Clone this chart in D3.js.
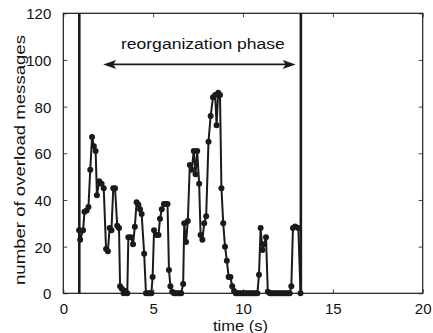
<!DOCTYPE html>
<html><head><meta charset="utf-8">
<script src="https://d3js.org/d3.v7.min.js"></script>
<style>body{margin:0;background:#fff;} svg{display:block;}</style>
</head><body>
<script>
const times = [0.88,0.94,1.1,1.18,1.3,1.4,1.5,1.6,1.7,1.8,1.87,2.0,2.13,2.25,2.38,2.48,2.58,2.68,2.78,2.88,3.0,3.1,3.16,3.26,3.36,3.45,3.56,3.62,3.76,3.88,3.98,4.08,4.18,4.27,4.36,4.5,4.6,4.7,4.8,4.9,4.97,5.05,5.18,5.3,5.38,5.48,5.6,5.7,5.8,5.88,5.96,6.06,6.16,6.26,6.36,6.46,6.56,6.67,6.73,6.83,6.93,7.04,7.15,7.26,7.36,7.45,7.56,7.64,7.74,7.84,7.95,8.08,8.2,8.33,8.45,8.53,8.62,8.72,8.8,8.9,9.0,9.1,9.2,9.3,9.4,9.5,9.6,9.7,9.8,9.9,10.0,10.1,10.2,10.3,10.4,10.5,10.6,10.7,10.8,10.89,10.98,11.08,11.18,11.28,11.38,11.5,11.6,11.7,11.8,11.9,12.0,12.1,12.2,12.3,12.4,12.5,12.6,12.69,12.78,12.9,13.08,13.2];
const values = [27,23,27,35,35.5,37,53,67,63,61,42,48,47,45,19,18,28,27,45,45,29,28,3,2,0,1,0,24,24,21,28.5,39,38,36,34,17,0,0,0,0,7,27,25,25,32,36,38.3,38.3,38.3,10,3,0.7,0,0,0,0,0,4,30,22,31,55,53,61,51,61,47,25,23,30,33,65,76,84,85,72,86,85,45,30,20,14,7,7,3,1,0,0,0,0,0,0,0,0,0,0,0,0,0,8,28,18.6,21,24,0.7,0,0,0,0,0,0,0,0,0,0,0,0,3,28,28.6,28,0];
const xTicks = [0,5,10,15,20];
const yTicks = [0,20,40,60,80,100,120];
const phaseLines = [0.89,13.22];
const arrowSpan = [2.22,12.93];
const arrowLevel = 98.1;
const phaseLabel = "reorganization phase";
const xLabel = "time (s)";
const yLabel = "number of overload messages";

const W=433,H=333;
const m={l:63.3,r:10.3,t:13.3,b:39.7};
const svg=d3.select("body").append("svg").attr("width",W).attr("height",H);
const x=d3.scaleLinear().domain([0,20]).range([m.l,W-m.r]);
const y=d3.scaleLinear().domain([0,120]).range([H-m.b,m.t]);
const font="'Liberation Sans', Arial, Helvetica, sans-serif";
const ink="#1a1a1a";

// box
svg.append("rect").attr("x",x(0)).attr("y",y(120)).attr("width",x(20)-x(0)).attr("height",y(0)-y(120))
  .attr("fill","none").attr("stroke",ink).attr("stroke-width",1.2);

// axes (inward ticks)
const tl=4;
const gb=svg.append("g").attr("transform",`translate(0,${y(0)})`)
  .call(d3.axisBottom(x).tickValues(xTicks).tickSizeInner(-tl).tickSizeOuter(0).tickPadding(9));
const gt=svg.append("g").attr("transform",`translate(0,${y(120)})`)
  .call(d3.axisTop(x).tickValues(xTicks).tickSizeInner(-tl).tickSizeOuter(0).tickFormat(""));
const gl=svg.append("g").attr("transform",`translate(${x(0)},0)`)
  .call(d3.axisLeft(y).tickValues(yTicks).tickSizeInner(-tl).tickSizeOuter(0).tickPadding(12));
const gr=svg.append("g").attr("transform",`translate(${x(20)},0)`)
  .call(d3.axisRight(y).tickValues(yTicks).tickSizeInner(-tl).tickSizeOuter(0).tickFormat(""));
[gb,gt,gl,gr].forEach(g=>{g.select(".domain").remove();g.selectAll("line").attr("stroke",ink).attr("stroke-width",0.8);
  g.selectAll("text").attr("font-family",font).attr("font-size",15).attr("fill","#111");});
gb.selectAll("text").attr("dy","0.75em");
gl.selectAll("text").attr("dy","0.36em");

// phase lines
svg.selectAll(".ph").data(phaseLines).enter().append("line")
  .attr("x1",d=>x(d)).attr("x2",d=>x(d)).attr("y1",y(120)).attr("y2",y(0))
  .attr("stroke",ink).attr("stroke-width",2.6);

// data line
const pts=times.map((t,i)=>[t,values[i]]);
svg.append("path").datum(pts).attr("fill","none").attr("stroke",ink).attr("stroke-width",2)
  .attr("stroke-linejoin","round").attr("d",d3.line().x(d=>x(d[0])).y(d=>y(d[1])));
svg.selectAll(".pt").data(pts).enter().append("circle")
  .attr("cx",d=>x(d[0])).attr("cy",d=>y(d[1])).attr("r",3).attr("fill",ink);

// arrow
const ay=y(arrowLevel), ax1=x(arrowSpan[0]), ax2=x(arrowSpan[1]);
svg.append("line").attr("x1",ax1+6).attr("x2",ax2-6).attr("y1",ay).attr("y2",ay).attr("stroke",ink).attr("stroke-width",1.8);
const hl=13,hw=4.5;
svg.append("path").attr("fill",ink)
  .attr("d",`M${ax1},${ay} L${ax1+hl},${ay-hw} L${ax1+hl-3},${ay} L${ax1+hl},${ay+hw} Z`);
svg.append("path").attr("fill",ink)
  .attr("d",`M${ax2},${ay} L${ax2-hl},${ay-hw} L${ax2-hl+3},${ay} L${ax2-hl},${ay+hw} Z`);

svg.append("text").attr("x",202.9).attr("y",48.5).attr("text-anchor","middle")
  .attr("font-family",font).attr("font-size",15.5).attr("fill","#111")
  .attr("textLength",164).attr("lengthAdjust","spacingAndGlyphs").text(phaseLabel);

svg.append("text").attr("x",240.5).attr("y",330.5).attr("text-anchor","middle")
  .attr("font-family",font).attr("font-size",15.5).attr("fill","#111")
  .attr("textLength",55).attr("lengthAdjust","spacingAndGlyphs").text(xLabel);

svg.append("text").attr("transform","translate(24.5,160) rotate(-90)").attr("text-anchor","middle")
  .attr("font-family",font).attr("font-size",15.5).attr("fill","#111")
  .attr("textLength",250).attr("lengthAdjust","spacingAndGlyphs").text(yLabel);
</script>
</body></html>
